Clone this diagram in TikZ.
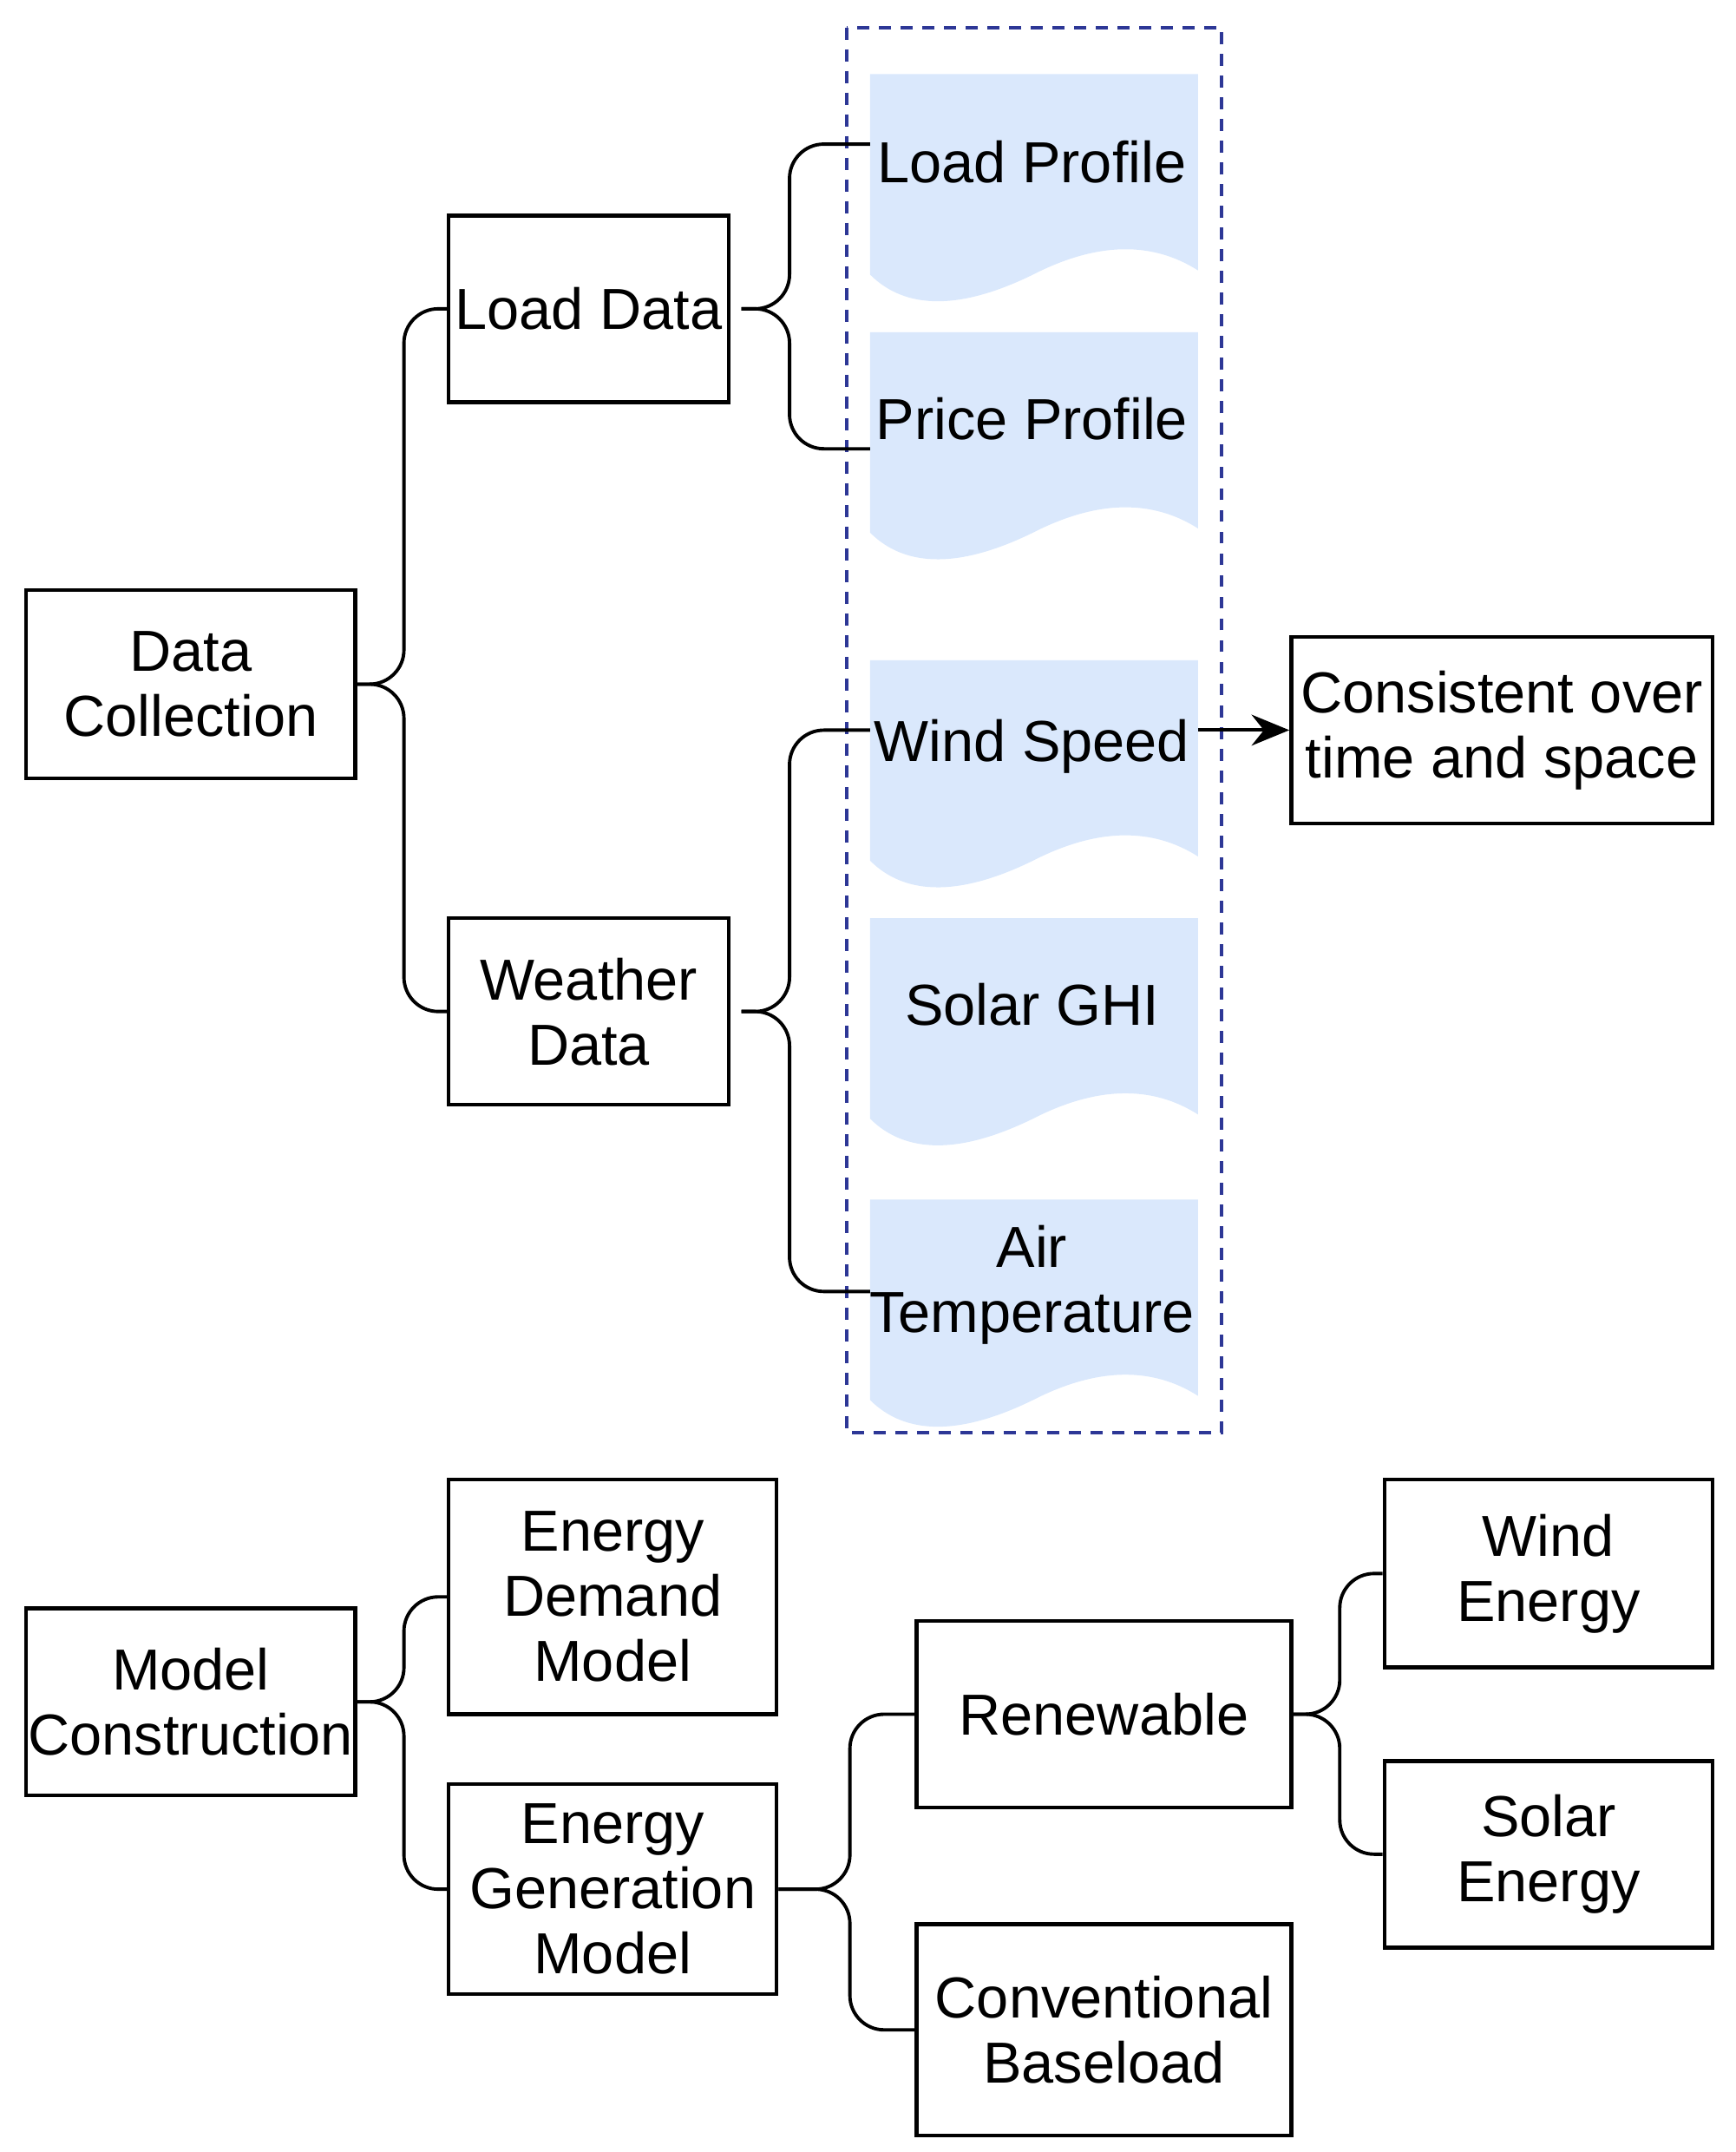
\documentclass[tikz,border=0pt]{standalone}
\usepackage{fontspec}
\setmainfont{Liberation Sans}
\usetikzlibrary{arrows.meta}
\definecolor{docfill}{HTML}{DAE8FC}
\definecolor{dashblue}{RGB}{45,55,150}
\newcommand\docshape[1]{%
  \fill[docfill] (634,#1) -- (873,#1) -- (873,{#1+143})
    .. controls (840,{#1+122}) and (800,{#1+122}) .. (753,{#1+146})
    .. controls (700,{#1+172}) and (660,{#1+172}) .. (634,{#1+146}) -- cycle;}
\begin{document}
\begin{tikzpicture}[x=0.02cm,y=-0.02cm,
  box/.style={draw,line width=1.6pt,align=center,inner sep=0pt},
  txt/.style={align=center,inner sep=0pt},
  conn/.style={line width=1.4pt,rounded corners=0.5cm},
  every node/.style={font=\fontsize{24}{27}\selectfont}]
\useasboundingbox (0,0) rectangle (1265,1568);

% documents
\docshape{54}
\docshape{242}
\docshape{481}
\docshape{669}
\docshape{874}
\node[txt] (lp) at (752,118) {Load Profile};
\node[txt] (pp) at (752,305) {Price Profile};
\node[txt] (ws) at (752,544) {Wind Speed};
\node[txt] (sg) at (752,732) {Solar GHI};
\node[txt] (at) at (752,936) {Air\\Temperature};
\coordinate (lpin) at (634,105);
\coordinate (ppin) at (634,327);
\coordinate (wsin) at (634,532);
\coordinate (atin) at (634,941);
\coordinate (wsout) at (873,532);
\draw[dashblue,line width=1.5pt,dash pattern=on 5pt off 4pt] (617,20) rectangle (890,1044);

% boxes
\node[box,minimum width=4.8cm,minimum height=2.74cm] (dc) at (139,498.5) {Data\\Collection};
\node[box,minimum width=4.08cm,minimum height=2.72cm] (ld) at (429,225) {Load Data};
\node[box,minimum width=4.08cm,minimum height=2.72cm] (wd) at (429,737) {Weather\\Data};
\node[box,minimum width=6.14cm,minimum height=2.72cm] (cs) at (1094.5,532) {Consistent over\\time and space};
\node[box,minimum width=4.8cm,minimum height=2.72cm] (mc) at (139,1240) {Model\\Construction};
\node[box,minimum width=4.78cm,minimum height=3.42cm] (ed) at (446.5,1163.5) {Energy\\Demand\\Model};
\node[box,minimum width=4.78cm,minimum height=3.06cm] (eg) at (446.5,1376.5) {Energy\\Generation\\Model};
\node[box,minimum width=5.46cm,minimum height=2.72cm] (rn) at (804.5,1249) {Renewable};
\node[box,minimum width=5.46cm,minimum height=3.08cm] (cb) at (804.5,1479) {Conventional\\Baseload};
\node[box,minimum width=4.78cm,minimum height=2.74cm] (we) at (1128.5,1146.5) {Wind\\Energy};
\node[box,minimum width=4.78cm,minimum height=2.72cm] (se) at (1128.5,1351) {Solar\\Energy};

% brace connectors
\draw[conn] (dc.east) -- ++(34,0) |- (ld.west);
\draw[conn] (dc.east) -- ++(34,0) |- (wd.west);
\draw[conn] ([xshift=0.16cm]ld.east) -- ++(35,0) |- (lpin);
\draw[conn] ([xshift=0.16cm]ld.east) -- ++(35,0) |- (ppin);
\draw[conn] ([xshift=0.16cm]wd.east) -- ++(35,0) |- (wsin);
\draw[conn] ([xshift=0.16cm]wd.east) -- ++(35,0) |- (atin);
\draw[conn] (mc.east) -- ++(34,0) |- (ed.west);
\draw[conn] (mc.east) -- ++(34,0) |- (eg.west);
\draw[conn] (eg.east) -- ++(52,0) |- (rn.west);
\draw[conn] (eg.east) -- ++(52,0) |- (cb.west);
\draw[conn] (rn.east) -- ++(34,0) |- (we.west);
\draw[conn] (rn.east) -- ++(34,0) |- (se.west);

% arrow
\draw[line width=1.4pt,-{Stealth[length=0.55cm,width=0.45cm]}] (wsout) -- (cs.west);
\end{tikzpicture}
\end{document}
